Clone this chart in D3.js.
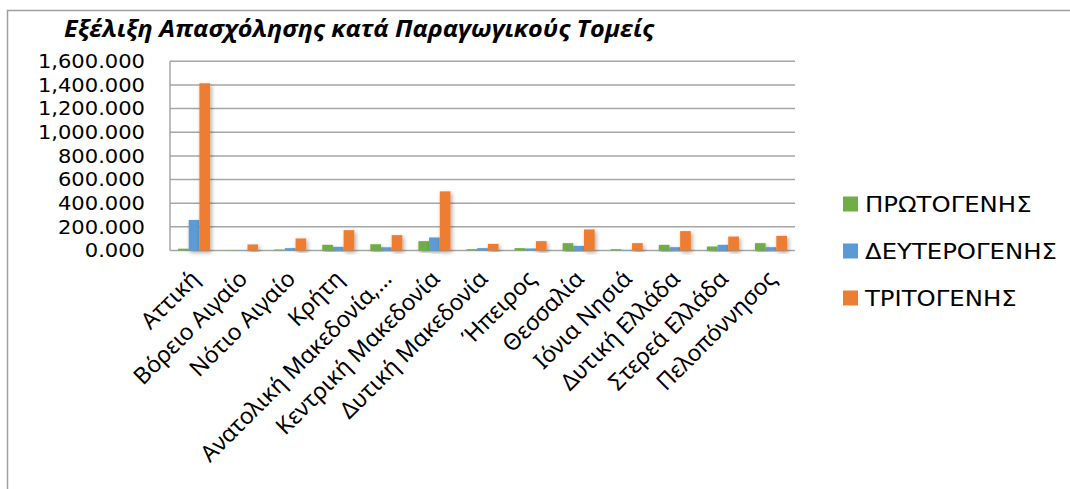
<!DOCTYPE html>
<html><head><meta charset="utf-8">
<script src="https://cdn.jsdelivr.net/npm/d3@7/dist/d3.min.js"></script>
<style>
html,body{margin:0;padding:0;background:#fff;overflow:hidden}
svg{display:block}
</style></head>
<body>
<svg id="chart" width="1070" height="489"></svg>
<script>
const categories = ["Αττική","Βόρειο Αιγαίο","Νότιο Αιγαίο","Κρήτη","Ανατολική Μακεδονία,…","Κεντρική Μακεδονία","Δυτική Μακεδονία","Ήπειρος","Θεσσαλία","Ιόνια Νησιά","Δυτική Ελλάδα","Στερεά Ελλάδα","Πελοπόννησος"];
const seriesNames = ["ΠΡΩΤΟΓΕΝΗΣ","ΔΕΥΤΕΡΟΓΕΝΗΣ","ΤΡΙΤΟΓΕΝΗΣ"];
const primary   = [15, 3, 8, 48, 53, 79, 11, 20, 62, 11, 48, 34, 62];
const secondary = [258, 3, 20, 31, 27, 110, 20, 17, 39, 5, 28, 48, 28];
const tertiary  = [1414, 51, 102, 172, 130, 500, 56, 79, 178, 62, 164, 118, 124];
const yTicks = [0, 200, 400, 600, 800, 1000, 1200, 1400, 1600];
const title = "Εξέλιξη Απασχόλησης κατά Παραγωγικούς Τομείς";

const colors = ["#70ad47", "#5b9bd5", "#ed7d31"];
const seriesValues = [primary, secondary, tertiary];

const svg = d3.select("#chart");
const defs = svg.append("defs");
const f = defs.append("filter").attr("id","sh").attr("x","-50%").attr("y","-10%").attr("width","200%").attr("height","130%");
f.append("feDropShadow").attr("dx",1.5).attr("dy",2).attr("stdDeviation",2).attr("flood-color","#000").attr("flood-opacity",0.35);

// outer border
svg.append("rect").attr("x",7.5).attr("y",10.5).attr("width",1100).attr("height",500)
  .attr("fill","none").attr("stroke","#a0a0a0").attr("stroke-width",1.5);

const pLeft = 170, pRight = 795, pTop = 61.3, pBottom = 250.5;
const x0 = d3.scaleBand().domain(categories).range([pLeft, pRight]).paddingInner(0).paddingOuter(0);
const x1 = d3.scaleBand().domain(seriesNames).range([0, x0.bandwidth()]).paddingInner(0).paddingOuter(0.75);
const y = d3.scaleLinear().domain([0, 1600]).range([pBottom, pTop]);

// gridlines
svg.append("g").selectAll("line").data(yTicks).join("line")
  .attr("x1", pLeft).attr("x2", pRight)
  .attr("y1", d => y(d)).attr("y2", d => y(d))
  .attr("stroke", "#a6a6a6").attr("stroke-width", 1.5);
svg.append("line").attr("x1", pLeft).attr("x2", pLeft).attr("y1", pTop).attr("y2", pBottom)
  .attr("stroke", "#a6a6a6").attr("stroke-width", 1.5);

// y axis labels
const yAxis = d3.axisLeft(y).tickValues(yTicks).tickFormat(d3.format(",.3f")).tickSize(0).tickPadding(0);
const ya = svg.append("g").attr("transform", `translate(145,0)`).call(yAxis);
ya.select(".domain").remove();
ya.selectAll("text").attr("font-family","'DejaVu Sans', sans-serif").attr("font-size",19.5)
  .attr("fill","#000").attr("transform","scale(1.08,1)");

// bars
const rows = categories.map((c, i) => ({c, vals: seriesValues.map((s, k) => ({k, name: seriesNames[k], v: s[i]}))}));
const g = svg.append("g");
g.selectAll("g").data(rows).join("g")
  .attr("transform", d => `translate(${x0(d.c)},0)`)
  .selectAll("rect").data(d => d.vals).join("rect")
  .attr("x", d => x1(d.name)).attr("width", x1.bandwidth())
  .attr("y", d => y(d.v)).attr("height", d => pBottom - y(d.v))
  .attr("fill", d => colors[d.k]).attr("filter","url(#sh)");

// x labels
const xa = svg.append("g").attr("transform", `translate(0,${pBottom})`)
  .call(d3.axisBottom(x0).tickSize(0).tickPadding(0));
xa.select(".domain").remove();
xa.selectAll("text")
  .attr("font-family","'Noto Sans', sans-serif").attr("font-size",23).attr("fill","#000")
  .attr("text-anchor","end")
  .attr("dy","0.35em")
  .attr("transform", "translate(1,24) rotate(-45)");

// title
svg.append("text").attr("transform","translate(64,37) scale(1.05,1)").text(title)
  .attr("font-family","'Open Sans', sans-serif").attr("font-weight","bold").attr("font-style","italic")
  .attr("font-size",24).attr("fill","#000");

// legend
const lg = svg.append("g").selectAll("g").data(seriesNames).join("g")
  .attr("transform", (d, i) => `translate(843,${204 + i * 47})`);
lg.append("rect").attr("x",0).attr("y",-7.5).attr("width",15).attr("height",15).attr("fill",(d,i)=>colors[i]);
lg.append("text").attr("transform","translate(22,0) scale(1.16,1)").attr("dy","0.36em").text(d => d)
  .attr("font-family","'DejaVu Sans', sans-serif").attr("font-size",21).attr("fill","#000");
</script>
</body></html>
